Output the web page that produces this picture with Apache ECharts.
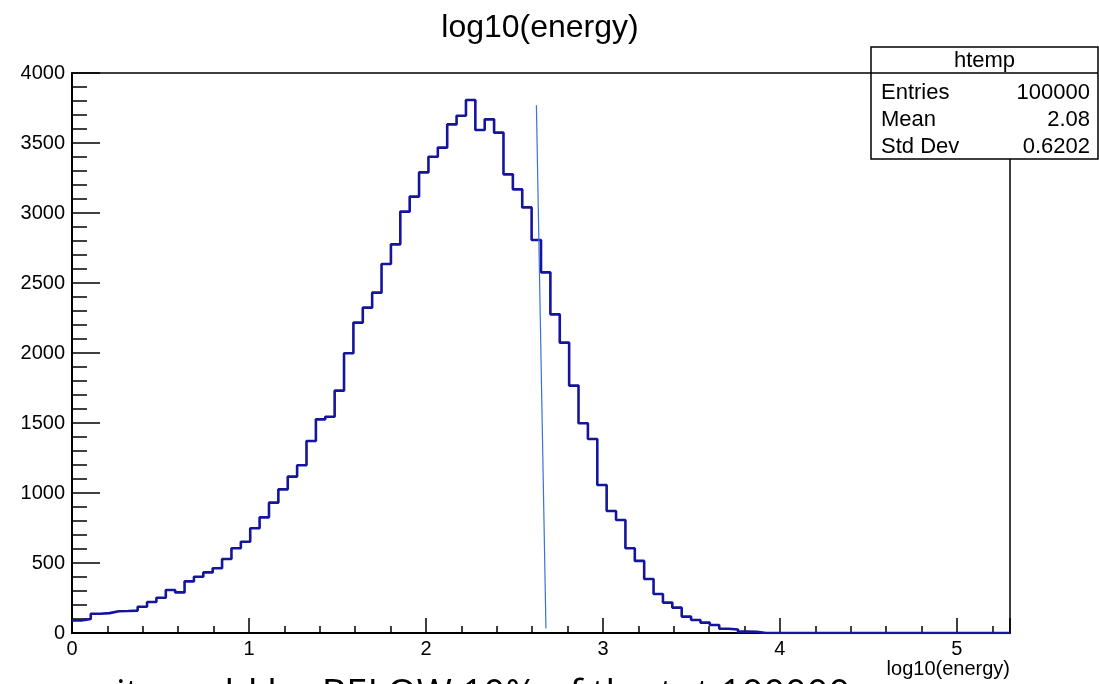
<!DOCTYPE html>
<html>
<head>
<meta charset="utf-8">
<script src="https://cdn.jsdelivr.net/npm/echarts@6/dist/echarts.min.js"></script>
<style>
html,body{margin:0;padding:0;background:#fff;overflow:hidden;}
#c{width:1099px;height:684px;}
</style>
</head>
<body>
<div id="c"></div>
<script>
// ---- data ----
var chartTitle = "log10(energy)";
var xAxisTitle = "log10(energy)";
var histName = "htemp";
var xRange = [0, 5.3];
var nBins = 100;
var yRange = [0, 4000];
var binCounts = [
  90, 100, 138, 142, 155, 157, 160, 188, 221, 252,
  307, 290, 369, 402, 433, 462, 529, 605, 652, 748,
  826, 931, 1026, 1117, 1198, 1371, 1526, 1545, 1731, 1998,
  2217, 2324, 2431, 2636, 2776, 3010, 3117, 3290, 3402, 3467,
  3633, 3695, 3807, 3593, 3669, 3574, 3276, 3169, 3040, 2807,
  2576, 2276, 2074, 1767, 1498, 1386, 1057, 871, 807, 605,
  515, 386, 279, 217, 181, 117, 93, 74, 57, 30,
  25, 10, 8, 0, 0, 0, 0, 0, 0, 0,
  0, 0, 0, 0, 0, 0, 0, 0, 0, 0,
  0, 0, 0, 0, 0, 0, 0, 0, 0, 0
];
var fitLine = [[2.624, 3770], [2.678, 33]];
var statsLabels = ["Entries", "Mean", "Std Dev"];
var statsValues = ["100000", "2.08", "0.6202"];
var footNote = "it would be BELOW 10% of the tot 100000";

// ---- build step outline from bins ----
var binW = (xRange[1] - xRange[0]) / nBins;
var stepData = [];
for (var i = 0; i < binCounts.length; i++) {
  stepData.push([xRange[0] + i * binW, binCounts[i]]);
}
stepData.push([xRange[0] + binCounts.length * binW, binCounts[binCounts.length - 1]]);

var font = "Liberation Sans, Arial, Helvetica, sans-serif";
var chart = echarts.init(document.getElementById('c'));

var gLeft = 72, gRight = 89, gTop = 73, gBottom = 51;
var boxX = 871, boxY = 47, boxW = 227, boxH = 112;
var rowY = [93, 120, 147];

var graphics = [
  {type: 'text', style: {text: chartTitle, x: 540, y: 28, textAlign: 'center', textVerticalAlign: 'middle', font: '32px ' + font, fill: '#000'}, z: 10},
  {type: 'text', style: {text: xAxisTitle, x: 1010, y: 669, textAlign: 'right', textVerticalAlign: 'middle', font: '20px ' + font, fill: '#000'}, z: 10},
  {type: 'rect', shape: {x: boxX, y: boxY, width: boxW, height: boxH}, style: {fill: '#fff', stroke: '#000', lineWidth: 1.5}, z: 100},
  {type: 'line', shape: {x1: boxX, y1: gTop, x2: boxX + boxW, y2: gTop}, style: {stroke: '#000', lineWidth: 1.5}, z: 101},
  {type: 'text', style: {text: histName, x: boxX + boxW / 2, y: 61, textAlign: 'center', textVerticalAlign: 'middle', font: '22px ' + font, fill: '#000'}, z: 101},
  {type: 'text', style: {text: footNote, x: 116, y: 677, textAlign: 'left', textVerticalAlign: 'top', font: '38px Open Sans, sans-serif', fill: '#000'}, z: 5}
];
for (var r = 0; r < statsLabels.length; r++) {
  graphics.push({type: 'text', style: {text: statsLabels[r], x: 881, y: rowY[r], textAlign: 'left', textVerticalAlign: 'middle', font: '22px ' + font, fill: '#000'}, z: 101});
  graphics.push({type: 'text', style: {text: statsValues[r], x: 1090, y: rowY[r], textAlign: 'right', textVerticalAlign: 'middle', font: '22px ' + font, fill: '#000'}, z: 101});
}

chart.setOption({
  animation: false,
  backgroundColor: '#fff',
  grid: {left: gLeft, right: gRight, top: gTop, bottom: gBottom, show: true, borderColor: '#000', borderWidth: 1.5, backgroundColor: 'transparent'},
  xAxis: {
    type: 'value', min: xRange[0], max: xRange[1], interval: 1,
    axisLine: {show: true, onZero: false, lineStyle: {color: '#000', width: 2}},
    axisTick: {show: true, inside: true, length: 15, lineStyle: {color: '#000', width: 1.5}},
    minorTick: {show: true, splitNumber: 5, length: 7, lineStyle: {color: '#000', width: 1.5}},
    splitLine: {show: false},
    axisLabel: {color: '#000', fontSize: 20, fontFamily: font, margin: 6, showMaxLabel: false,
      formatter: function (v) { return Math.abs(v - Math.round(v)) < 1e-9 ? String(Math.round(v)) : ''; }}
  },
  yAxis: {
    type: 'value', min: yRange[0], max: yRange[1], interval: 500,
    axisLine: {show: true, lineStyle: {color: '#000', width: 2}},
    axisTick: {show: true, inside: true, length: 28, lineStyle: {color: '#000', width: 1.5}},
    minorTick: {show: true, splitNumber: 5, length: 15, lineStyle: {color: '#000', width: 1.5}},
    splitLine: {show: false},
    axisLabel: {color: '#000', fontSize: 20, fontFamily: font, margin: 7,
      formatter: function (v) { return String(v); }}
  },
  series: [
    {type: 'line', data: stepData, step: 'end', symbol: 'none', clip: true,
      lineStyle: {color: '#14149c', width: 2.6}, z: 3},
    {type: 'line', data: fitLine, symbol: 'none',
      lineStyle: {color: '#3a72d8', width: 1.2}, z: 4}
  ],
  graphic: graphics
});
</script>
</body>
</html>
